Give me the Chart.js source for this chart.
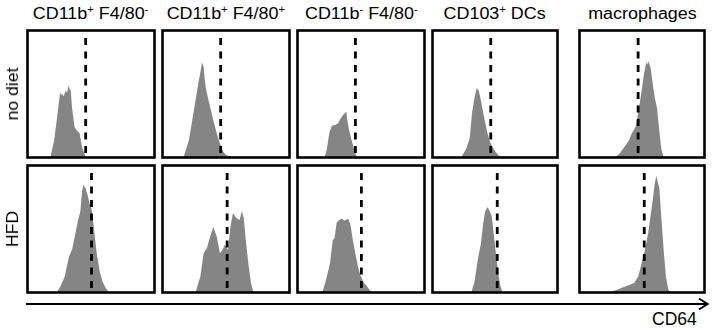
<!DOCTYPE html>
<html>
<head>
<meta charset="utf-8">
<script src="https://cdn.jsdelivr.net/npm/chart.js@4/dist/chart.umd.min.js"></script>
<style>
  body { margin: 0; background: #fff; }
  #fig { position: relative; width: 716px; height: 332px; font-family: "Liberation Sans", Arial, sans-serif; color: #000; }
  .panel { position: absolute; }
  .title { position: absolute; top: 4px; font-size: 16px; line-height: 20px; text-align: center; white-space: nowrap; }
  .title span { display: inline-block; transform: scaleX(1.12); }
  .title sup { font-size: 10px; vertical-align: 6px; line-height: 0; }
  .rowlab { position: absolute; font-size: 16px; line-height: 20px; white-space: nowrap; color: #000; will-change: transform; transform: translate(-50%, -50%) rotate(-90deg) scaleX(1.1); }
  #xlab { position: absolute; left: 652px; top: 309px; font-size: 17.5px; line-height: 20px; }
</style>
</head>
<body>
<div id="fig">
  <svg width="716" height="332" style="position:absolute;left:0;top:0">
    <line x1="26" y1="304" x2="707" y2="304" stroke="#000" stroke-width="2"/>
    <polyline points="699,298.5 707.5,304 699,309.5" fill="none" stroke="#000" stroke-width="2"/>
  </svg>
  <div id="xlab">CD64</div>
</div>
<script>
// column / row labels
const columnTitles = ['CD11b<sup>+</sup> F4/80<sup>-</sup>', 'CD11b<sup>+</sup> F4/80<sup>+</sup>', 'CD11b<sup>-</sup> F4/80<sup>-</sup>', 'CD103<sup>+</sup> DCs', 'macrophages'];
const rowLabels = ['no diet', 'HFD'];

// histograms, [CD64 (% of panel), count (% of panel)]
const noDietCd11bPosF480Neg = [[18,0],[21,13.6],[23.6,34],[25.7,51.6],[26.5,49],[27.5,50],[28.5,48],[30,53],[31,51],[32.6,57],[33.3,53],[34,54],[35,40],[37,24],[39,21],[41,19],[43,8],[45.5,1],[46,0]];
const noDietCd11bPosF480Pos = [[16.5,0],[20.8,13.6],[24.7,37],[28.5,60],[30,68],[31.1,75],[32.4,71],[33.2,62],[34.4,53],[37,42],[40.1,29],[42.7,19],[45.2,11],[47.8,4.5],[50,2],[53,1],[55.5,0]];
const noDietCd11bNegF480Neg = [[21.3,0],[23,6],[25,19],[27,25],[29.7,25.5],[32,27],[34,31],[36.7,34.5],[38.5,36],[39,31],[40.5,22],[42.5,14],[44,8.5],[45.6,3],[47,0]];
const noDietCd103Dc = [[23,0],[27,7],[29.7,15],[31.8,36.5],[33.6,47],[35.4,54.7],[37,52.5],[38.8,44.5],[41.4,31],[44,19],[46,12.5],[48,8],[50.5,4.5],[53,1.3],[55.7,0.5],[58,0.5],[59.6,1.2],[61.5,0.3],[63.5,0]];
const noDietMacrophages = [[28,0],[32,3],[36,8.5],[39.3,13],[41.9,19],[45,24.5],[47.6,39],[49.7,52.5],[51.6,66],[53.4,75],[54.2,73],[55,75.7],[56.8,71],[58.6,58],[60.2,47],[62,39],[63.9,20.5],[65.4,7],[67.3,0]];

const hfdCd11bPosF480Neg = [[23,0],[26,5],[29.3,12.6],[32.6,28],[35.2,34],[37.8,47],[39.6,56],[41.6,64],[43,80],[44.2,85],[45,83],[45.8,82],[46.5,79],[47.3,77],[48.8,70.5],[50.6,65],[52.4,49.5],[54.5,31],[56.6,18],[59,8.7],[61.7,3.4],[64.3,0]];
const hfdCd11bPosF480Pos = [[26,0],[29.8,12.6],[32.4,31],[35,35],[37.5,44],[40,51.6],[42.7,44],[45.2,31],[47.3,33.7],[49,37.6],[51.7,33.7],[53.5,52],[55.5,62.6],[58,58.7],[60.7,57],[62.5,64],[64,58.7],[65.8,39],[67.9,20.5],[69.7,7.4],[71.5,0]];
const hfdCd11bNegF480Neg = [[19.5,0],[22.5,10],[25.6,23],[27.7,41],[29.2,43],[30.8,55],[32.8,57],[35,58],[36.7,56.5],[38,57],[40,58],[41.8,53],[43.6,41],[45.6,30.5],[47.7,20],[49.5,13.5],[52,8],[54.6,5],[57,1.5],[59.7,0]];
const hfdCd103Dc = [[31,0],[33.6,8.7],[36.2,25.8],[38.8,39],[40.6,54.7],[42.2,64],[44,67.4],[45.8,64],[47.4,60],[49.2,44],[51,28.4],[52.6,15],[54.4,4.7],[56.2,0]];
const hfdMacrophages = [[24,0],[29.3,2],[34.5,4],[39.8,6],[43.7,7.4],[47,12.6],[49.7,23],[52.4,33.7],[55,47],[56.8,60],[58.6,73],[60.2,86],[61.5,92],[62.8,86],[63.9,82],[65.4,60],[67.3,33.7],[69.1,12.6],[71.2,2],[73.3,0]];

// dashed gate positions
const noDietGates = [45.8, 45.8, 45.6, 46.6, 46.9];
const hfdGates = [50.4, 50.9, 50.3, 51.8, 51.8];
const gateTop = 94;

const histograms = [
    [noDietCd11bPosF480Neg, noDietCd11bPosF480Pos, noDietCd11bNegF480Neg, noDietCd103Dc, noDietMacrophages],
    [hfdCd11bPosF480Neg, hfdCd11bPosF480Pos, hfdCd11bNegF480Neg, hfdCd103Dc, hfdMacrophages]
];
const gates = [noDietGates, hfdGates];

const colLeft = [26, 161, 296, 431, 578];
const colWidth = [130, 130, 130, 128, 128];
const rowTop = [29, 164];
const rowHeight = 130;

const framePlugin = {
    id: 'frame',
    afterDatasetsDraw(chart) {
        const { ctx, chartArea: a } = chart;
        ctx.save();
        ctx.lineWidth = 2.6;
        ctx.strokeStyle = '#000';
        ctx.strokeRect(a.left, a.top, a.right - a.left, a.bottom - a.top);
        ctx.restore();
    }
};

const fig = document.getElementById('fig');

columnTitles.forEach((t, c) => {
    const d = document.createElement('div');
    d.className = 'title';
    d.style.left = colLeft[c] + 'px';
    d.style.width = colWidth[c] + 'px';
    d.innerHTML = '<span>' + t + '</span>';
    fig.appendChild(d);
});

rowLabels.forEach((t, r) => {
    const d = document.createElement('div');
    d.className = 'rowlab';
    d.style.left = '13px';
    d.style.top = (r === 0 ? 93.5 : 228.5) + 'px';
    d.textContent = t;
    fig.appendChild(d);
});

for (let r = 0; r < 2; r++) {
    for (let c = 0; c < 5; c++) {
        const canvas = document.createElement('canvas');
        canvas.className = 'panel';
        canvas.width = colWidth[c];
        canvas.height = rowHeight;
        canvas.style.left = colLeft[c] + 'px';
        canvas.style.top = rowTop[r] + 'px';
        fig.appendChild(canvas);

        const g = gates[r][c];
        new Chart(canvas, {
            type: 'line',
            data: {
                datasets: [{
                    data: [{ x: g, y: gateTop }, { x: g, y: 0 }],
                    borderColor: '#000',
                    borderWidth: 2.8,
                    borderDash: [7, 6.5],
                    borderCapStyle: 'butt',
                    pointRadius: 0,
                    order: 0
                }, {
                    data: histograms[r][c].map(p => ({ x: p[0], y: p[1] })),
                    borderWidth: 0,
                    borderColor: 'rgba(0,0,0,0)',
                    backgroundColor: '#858585',
                    fill: 'origin',
                    tension: 0,
                    pointRadius: 0,
                    order: 1
                }]
            },
            options: {
                responsive: false,
                animation: false,
                layout: { padding: 1.5 },
                scales: {
                    x: { type: 'linear', min: 0, max: 100, display: false },
                    y: { min: 0, max: 100, display: false }
                },
                plugins: {
                    legend: { display: false },
                    tooltip: { enabled: false }
                }
            },
            plugins: [framePlugin]
        });
    }
}
</script>
</body>
</html>
